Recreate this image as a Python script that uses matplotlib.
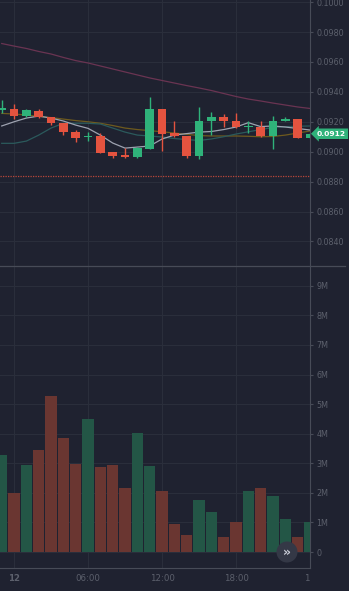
import numpy as np
import matplotlib
matplotlib.use("Agg")
import matplotlib.pyplot as plt
from matplotlib.patches import Circle, Rectangle
from matplotlib.transforms import blended_transform_factory

# hourly candles
opens = [0.09281, 0.09285, 0.09241, 0.09274, 0.09234, 0.09192, 0.09134, 0.09098,
         0.09107, 0.08998, 0.08978, 0.08962, 0.09020, 0.09283, 0.09123, 0.09107,
         0.08973, 0.09205, 0.09234, 0.09207, 0.09163, 0.09165, 0.09105, 0.09207,
         0.09218, 0.09094]
highs = [0.09345, 0.09319, 0.09285, 0.09285, 0.09234, 0.09192, 0.09145, 0.09134,
         0.09123, 0.08998, 0.09027, 0.09033, 0.09368, 0.09283, 0.09207, 0.09107,
         0.09296, 0.09267, 0.09252, 0.09256, 0.09207, 0.09207, 0.09241, 0.09234,
         0.09218, 0.09125]
lows = [0.09256, 0.09218, 0.09234, 0.09225, 0.09178, 0.09109, 0.09067, 0.09071,
        0.08989, 0.08955, 0.08955, 0.08960, 0.09020, 0.09004, 0.09100, 0.08955,
        0.08949, 0.09111, 0.09167, 0.09158, 0.09127, 0.09100, 0.09016, 0.09203,
        0.09089, 0.09090]
closes = [0.09290, 0.09241, 0.09279, 0.09230, 0.09189, 0.09131, 0.09094, 0.09107,
          0.08993, 0.08971, 0.08962, 0.09022, 0.09283, 0.09118, 0.09105, 0.08973,
          0.09207, 0.09234, 0.09205, 0.09163, 0.09169, 0.09105, 0.09207, 0.09218,
          0.09094, 0.09120]
volume = [3.28, 1.98, 2.95, 3.45, 5.27, 3.86, 2.98, 4.50, 2.88, 2.95, 2.17, 4.02, 2.90,
          2.05, 0.96, 0.58, 1.76, 1.37, 0.52, 1.03, 2.05, 2.17, 1.88, 1.10, 0.52, 1.00]

# moving average lines as drawn
ma_white = [0.09172, 0.09200, 0.09225, 0.09238, 0.09225, 0.09205, 0.09178, 0.09156,
            0.09111, 0.09058, 0.09024, 0.09031, 0.09038, 0.09085, 0.09111, 0.09121,
            0.09131, 0.09135, 0.09148, 0.09165, 0.09194, 0.09168, 0.09172, 0.09165,
            0.09155, 0.09145]
ma_teal = [0.09056, 0.09056, 0.09071, 0.09111, 0.09158, 0.09190, 0.09190, 0.09190,
           0.09185, 0.09158, 0.09131, 0.09111, 0.09105, 0.09098, 0.09088, 0.09081,
           0.09075, 0.09085, 0.09100, 0.09118, 0.09133, 0.09148, 0.09162, 0.09167,
           0.09170, 0.09172]
ma_olive = [0.09256, 0.09252, 0.09245, 0.09236, 0.09228, 0.09218, 0.09208, 0.09200,
            0.09190, 0.09175, 0.09158, 0.09148, 0.09141, 0.09133, 0.09125, 0.09116,
            0.09108, 0.09105, 0.09105, 0.09105, 0.09103, 0.09100, 0.09102, 0.09111,
            0.09125, 0.09138]
ma_purple = [0.09723, 0.09706, 0.09690, 0.09670, 0.09653, 0.09630, 0.09609, 0.09593,
             0.09573, 0.09553, 0.09533, 0.09513, 0.09493, 0.09476, 0.09459, 0.09442,
             0.09426, 0.09409, 0.09389, 0.09369, 0.09352, 0.09339, 0.09325, 0.09312,
             0.09299, 0.09289]

support_level = 0.08837
last_price = 0.0912
price_ticks = [0.0840, 0.0860, 0.0880, 0.0900, 0.0920, 0.0940, 0.0960, 0.0980, 0.1000]
vol_ticks = [0, 1, 2, 3, 4, 5, 6, 7, 8, 9]
vol_labels = ["0", "1M", "2M", "3M", "4M", "5M", "6M", "7M", "8M", "9M"]
time_ticks = [1, 7, 13, 19, 25]
time_labels = ["12", "06:00", "12:00", "18:00", "13"]

BG = "#1f2230"
GRID = "#2a2e3b"
AXIS = "#474b57"
TXT = "#5c606c"
UP = "#2fb27a"
DOWN = "#e4533f"
UP_VOL = "#235646"
DOWN_VOL = "#6a3631"

W, H = 349, 591
fig = plt.figure(figsize=(W / 100, H / 100), dpi=100, facecolor=BG)
ax_w = 310 / W
ax_p = fig.add_axes([0, (H - 266) / H, ax_w, 266 / H], facecolor=BG)
ax_v = fig.add_axes([0, (H - 568) / H, ax_w, 302 / H], facecolor=BG, sharex=ax_p)

x = np.arange(len(opens))
o = np.array(opens)
c = np.array(closes)
up = c >= o
cols = np.where(up, UP, DOWN)

# price panel
ax_p.vlines(x, lows, highs, colors=cols, linewidth=1.0, zorder=3)
body = np.maximum(np.abs(c - o), 0.00003)
ax_p.bar(x, body, bottom=np.minimum(o, c), width=0.72, color=cols, zorder=4)
ax_p.plot(x, ma_purple, color="#6a3452", lw=0.9, zorder=2)
ax_p.plot(x, ma_olive, color="#6e5a1e", lw=0.9, zorder=2)
ax_p.plot(x, ma_teal, color="#2b5a5c", lw=0.9, zorder=2)
ax_p.plot(x, ma_white, color="#9ea3b0", lw=0.9, zorder=2)
ax_p.axhline(support_level, color="#b8463a", lw=0.9, ls=(0, (1, 1)), zorder=2)

ax_p.set_ylim(0.08236, 0.10014)
ax_p.set_yticks(price_ticks)
ax_p.set_yticklabels([f"{t:.4f}" for t in price_ticks])

# volume panel
ax_v.bar(x, volume, width=0.92, color=np.where(up, UP_VOL, DOWN_VOL), zorder=3)
ax_v.set_ylim(-0.54, 9.67)
ax_v.set_yticks(vol_ticks)
ax_v.set_yticklabels(vol_labels)

ax_v.set_xlim(-0.14, 24.97)
ax_v.set_xticks(time_ticks)
ax_v.set_xticklabels(time_labels)

for ax in (ax_p, ax_v):
    ax.grid(True, color=GRID, lw=0.8)
    ax.set_axisbelow(True)
    ax.yaxis.tick_right()
    ax.tick_params(axis="y", colors=AXIS, labelcolor=TXT, labelsize=5.8,
                   length=2.5, width=0.8, pad=2)
    for s in ("top", "left"):
        ax.spines[s].set_visible(False)
    ax.spines["right"].set_color(AXIS)
    ax.spines["bottom"].set_color(AXIS)

ax_p.spines["bottom"].set_visible(False)
ax_p.tick_params(axis="x", length=0, labelbottom=False)
ax_v.tick_params(axis="x", length=0, labelcolor=TXT, labelsize=6.2, pad=4)

clip = Rectangle((0, 0), ax_w, 1, transform=fig.transFigure)
for lab in ax_v.get_xticklabels():
    lab.set_clip_path(clip)
ax_v.get_xticklabels()[0].set_fontweight("bold")

# panel separator
fig.add_artist(plt.Line2D([0, 345 / W], [(H - 266) / H] * 2, color=AXIS, lw=0.9))

# last price tag
tr = blended_transform_factory(ax_p.transAxes, ax_p.transData)
ax_p.text(1.022, last_price, f"{last_price:.4f}", transform=tr, color="white",
          fontsize=5.4, fontweight="bold", va="center", ha="left", clip_on=False,
          bbox=dict(boxstyle="larrow,pad=0.3", fc=UP, ec=UP, lw=0))

# scroll button (inches, so it stays round)
fig.add_artist(Circle((2.87, (H - 552) / 100), 0.105, transform=fig.dpi_scale_trans,
                      facecolor="#343846", edgecolor="none", zorder=10))
fig.text(287 / W, (H - 552) / H, "»", color="#c9ccd6", fontsize=9,
         fontweight="bold", ha="center", va="center", zorder=11)

fig.savefig("out.png", dpi=100, facecolor=BG)
